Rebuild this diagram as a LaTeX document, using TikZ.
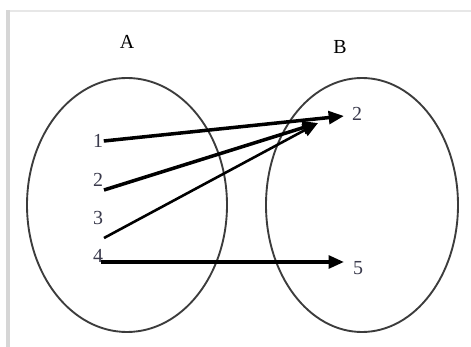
\documentclass[tikz,border=0pt]{standalone}
\usepackage{fontspec}
\setmainfont{Liberation Serif}
\usetikzlibrary{arrows.meta,calc}
\definecolor{framegray}{HTML}{D6D6D6}
\definecolor{ringgray}{HTML}{3C3C3C}
\definecolor{digitblue}{HTML}{3A3A4C}

\begin{document}
\begin{tikzpicture}[x=0.03cm,y=-0.03cm,
  elem/.style={inner sep=0.5pt,font=\fontsize{17}{20}\selectfont,text=digitblue},
  setname/.style={inner sep=0pt,font=\fontsize{17}{20}\selectfont},
  maps/.style={line width=3pt,-{Triangle[length=4.6mm,width=3.8mm]}},
]
\useasboundingbox (0,0) rectangle (471,347);
% Frame
\fill[white] (0,0) rectangle (471,347);
\fill[framegray!60] (6,10) rectangle (471,12);
\fill[framegray] (6,10) rectangle (10,347);
% Sets
\begin{scope}
  \clip (10,12) rectangle (471,333);
  \draw[ringgray,line width=1.6pt] (127,205) ellipse [x radius=100,y radius=127];
  \draw[ringgray,line width=1.6pt] (362,205) ellipse [x radius=96,y radius=127];
\end{scope}
\node[setname] (setA) at (127,42) {A};
\node[setname] (setB) at (340,47) {B};
% Elements
\node[elem] (a1) at (98,141) {1};
\node[elem] (a2) at (98,180) {2};
\node[elem] (a3) at (98,218) {3};
\node[elem] (a4) at (98,256) {4};
\node[elem] (b2) at (357,114) {2};
\node[elem] (b5) at (358,268) {5};
\coordinate (t2) at (104,190);
\coordinate (t3) at (104,238);
\coordinate (t4) at (101,262);
\coordinate (h1) at (344,116);
\coordinate (h2) at (318,123);
\coordinate (h4) at (344,262);
% Mapping
\draw[maps] (a1.east) -- (h1);
\draw[maps] (t2) -- (h2);
\draw[maps,line width=2.2pt] (t3) -- (h2);
\draw[maps] (t4) -- (h4);
\end{tikzpicture}
\end{document}
